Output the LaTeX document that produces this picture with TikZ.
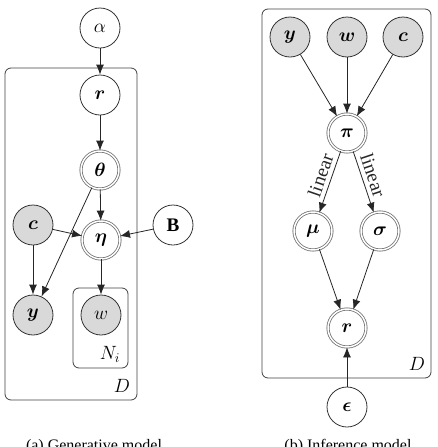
\documentclass[tikz,border=0pt]{standalone}
\usepackage{amsmath}
\usepackage{amssymb}
\usepackage{bm}
\usepackage{fontspec}
\setmainfont{Liberation Serif}
\usetikzlibrary{arrows.meta}

\begin{document}
\begin{tikzpicture}[x=0.75pt, y=-0.75pt,
		latent/.style={circle, draw=black!80, line width=0.6pt, minimum size=30pt, inner sep=0pt, font=\Large},
		obs/.style={latent, fill=black!15},
		det/.style={latent, double=white, draw=black!55, double distance=1.1pt, minimum size=28.5pt},
		plate/.style={draw=black!75, line width=0.6pt, rounded corners=4.5pt},
		edge/.style={-{Latex[length=7.5pt, width=6pt]}, black!85, line width=0.6pt}]
		\useasboundingbox (0,0) rectangle (437,447);
		
		% (a) generative model
		\node[latent] (alpha) at (100, 28) {$\alpha$};
		\node[latent] (r) at (100, 95) {$\bm{r}$};
		\node[det] (theta) at (100, 170) {$\bm{\theta}$};
		\node[det] (eta) at (101, 240) {$\bm{\eta}$};
		\node[obs] (c) at (33, 225) {$\bm{c}$};
		\node[latent] (B) at (173, 225) {$\mathbf{B}$};
		\node[obs] (y) at (33, 315) {$\bm{y}$};
		\node[obs] (w) at (101, 315) {$w$};
		
		\draw[plate] (5, 68) rectangle (137, 400);
		\draw[plate] (73, 288) rectangle (128, 368);
		\node[font=\Large] (DA) at (122, 386) {$D$};
		\node[font=\Large] (Ni) at (110, 354) {$N_i$};
		
		\foreach \s/\t in {alpha/r, r/theta, theta/eta, theta/y, c/eta, c/y, B/eta, eta/w} {
			\draw[edge] (\s) -- (\t);
		}
		
		% (b) inference model
		\node[obs] (yb) at (290, 37) {$\bm{y}$};
		\node[obs] (wb) at (347, 37) {$\bm{w}$};
		\node[obs] (cb) at (403, 37) {$\bm{c}$};
		\node[det] (pi) at (347, 133) {$\bm{\pi}$};
		\node[det] (mu) at (313, 231) {$\bm{\mu}$};
		\node[det] (sigma) at (380, 231) {$\bm{\sigma}$};
		\node[det] (rb) at (347, 328) {$\bm{r}$};
		\node[latent] (eps) at (347, 407) {$\bm{\epsilon}$};
		
		\draw[plate] (262, 9) rectangle (431, 378);
		\node[font=\Large] (DB) at (417, 364) {$D$};
		
		\foreach \s/\t in {yb/pi, wb/pi, cb/pi, mu/rb, sigma/rb, eps/rb} {
			\draw[edge] (\s) -- (\t);
		}
		\draw[edge] (pi) -- node[sloped, above, font=\Large, inner sep=3pt, pos=0.45] {linear} (mu);
		\draw[edge] (pi) -- node[sloped, above, font=\Large, inner sep=3pt, pos=0.45] {linear} (sigma);
		
		% captions
		\node[anchor=north, font=\large, inner sep=0pt] (capa) at (94, 439) {(a) Generative model};
		\node[anchor=north, font=\large, inner sep=0pt] (capb) at (348, 439) {(b) Inference model};
	\end{tikzpicture}
\end{document}
